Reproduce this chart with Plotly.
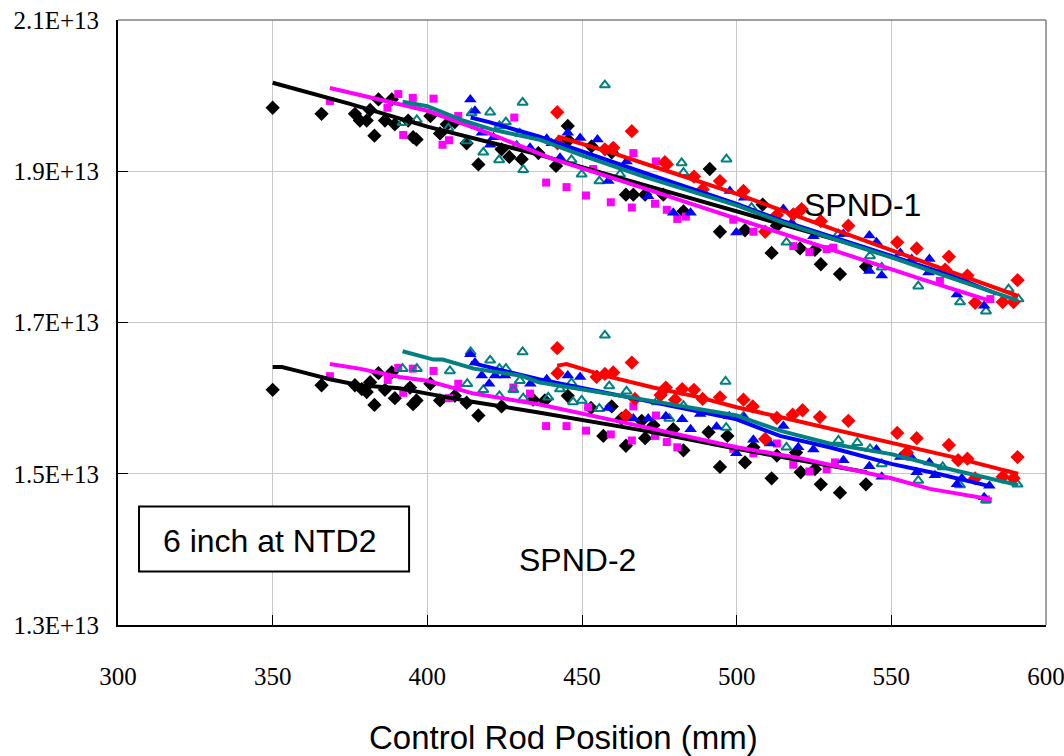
import plotly.graph_objects as go

E = 1e13

# ---------------- SPND-1 scatter data (y in units of 1E13) ----------------
s1_black_x = [350.0, 365.8, 376.6, 378.2, 380.4, 381.5, 384.2, 386.3, 382.9, 388.5, 389.5, 393.8, 395.4, 396.5,
              401.0, 404.1, 406.3, 408.9, 412.7, 416.5, 424.0, 426.5, 430.5, 435.9, 441.6, 445.4, 445.6, 453.1,
              459.6, 464.2, 466.6, 470.4, 476.3, 482.8, 491.3, 494.6, 502.7, 508.4, 511.3, 513.0, 520.5, 525.3,
              527.2, 533.4, 541.8]
s1_black_y = [1.984, 1.976, 1.976, 1.967, 1.967, 1.981, 1.995, 1.967, 1.947, 1.995, 1.962, 1.967, 1.945, 1.942,
              1.973, 1.950, 1.962, 1.965, 1.937, 1.909, 1.929, 1.919, 1.916, 1.924, 1.907, 1.960, 1.941, 1.933,
              1.925, 1.869, 1.869, 1.869, 1.869, 1.847, 1.903, 1.820, 1.822, 1.856, 1.792, 1.828, 1.798, 1.796,
              1.777, 1.764, 1.774]

s1_mag_x = [368.5, 390.6, 395.3, 402.0, 387.1, 392.2, 410.0, 407.0, 404.9, 428.1, 438.4, 445.0, 451.3, 459.3,
            466.6, 473.9, 466.1, 473.6, 477.4, 480.8, 483.6, 453.6, 498.9, 505.4, 518.3, 523.5, 529.1, 531.2,
            565.7, 582.0]
s1_mag_y = [1.993, 2.002, 1.997, 1.996, 1.984, 1.948, 1.973, 1.941, 1.935, 1.971, 1.885, 1.879, 1.868, 1.859,
            1.924, 1.913, 1.852, 1.857, 1.849, 1.837, 1.840, 1.903, 1.836, 1.820, 1.801, 1.793, 1.797, 1.799,
            1.755, 1.731]

s1_teal_x = [392.0, 396.6, 406.8, 412.7, 414.3, 418.1, 420.3, 423.2, 423.3, 425.4, 428.9, 430.8, 431.0, 429.9,
             446.6, 449.9, 455.6, 457.4, 462.3, 482.2, 482.8, 496.7, 504.8, 516.1, 532.9, 543.1, 546.9, 558.7,
             572.2, 580.6, 587.9, 591.1]
s1_teal_y = [1.964, 1.968, 1.957, 1.940, 1.977, 1.925, 1.978, 1.915, 1.960, 1.965, 1.934, 1.991, 1.902, 1.950,
             1.915, 1.896, 1.887, 2.014, 1.896, 1.911, 1.898, 1.916, 1.852, 1.806, 1.817, 1.788, 1.773, 1.748,
             1.727, 1.715, 1.744, 1.731]

s1_blue_x = [413.9, 415.4, 417.6, 420.3, 421.4, 433.2, 438.6, 440.2, 445.4, 449.4, 455.0, 442.9, 458.5, 464.4,
             471.4, 479.5, 485.1, 497.8, 499.9, 502.4, 507.5, 515.1, 517.8, 524.8, 534.5, 542.9, 545.2, 542.9,
             546.9, 552.9, 556.6, 562.3, 562.0, 571.2, 580.0]
s1_blue_y = [1.995, 1.980, 1.951, 1.935, 1.945, 1.931, 1.943, 1.937, 1.951, 1.944, 1.942, 1.918, 1.887, 1.913,
             1.867, 1.845, 1.845, 1.874, 1.819, 1.865, 1.841, 1.850, 1.832, 1.814, 1.817, 1.815, 1.806, 1.768,
             1.762, 1.792, 1.784, 1.784, 1.766, 1.737, 1.722]

s1_red_x = [442.0, 442.1, 466.1, 457.4, 460.1, 476.8, 477.4, 486.2, 494.6, 489.0, 502.2, 509.2, 513.0, 518.3,
            521.0, 527.2, 536.1, 551.9, 558.2, 568.6, 567.4, 574.6, 577.1, 586.0, 589.5, 590.8]
s1_red_y = [1.978, 1.937, 1.953, 1.929, 1.931, 1.912, 1.909, 1.893, 1.887, 1.876, 1.874, 1.820, 1.842, 1.843,
            1.850, 1.834, 1.828, 1.806, 1.798, 1.787, 1.770, 1.762, 1.726, 1.727, 1.727, 1.756]

# ---------------- SPND-1 trend lines ----------------
s1_black_lx = [350, 375, 400, 436, 470, 500, 520, 542]
s1_black_ly = [2.017, 1.989, 1.959, 1.922, 1.882, 1.847, 1.823, 1.798]
s1_mag_lx = [368.5, 380, 400, 420, 440, 460, 480, 500, 520, 540, 560, 582.5]
s1_mag_ly = [2.010, 1.999, 1.980, 1.950, 1.917, 1.891, 1.864, 1.838, 1.810, 1.784, 1.757, 1.728]
s1_teal_lx = [392, 400, 411, 421, 436, 450, 470, 500, 515, 550, 570, 591]
s1_teal_ly = [1.992, 1.986, 1.968, 1.955, 1.942, 1.921, 1.893, 1.855, 1.832, 1.786, 1.758, 1.729]
s1_blue_lx = [414, 420, 436, 450, 470, 500, 515, 550, 570, 584]
s1_blue_ly = [1.971, 1.965, 1.946, 1.926, 1.898, 1.857, 1.834, 1.788, 1.761, 1.738]
s1_red_lx = [442, 460, 480, 500, 520, 550, 570, 591]
s1_red_ly = [1.946, 1.924, 1.897, 1.870, 1.840, 1.795, 1.766, 1.735]

# ---------------- SPND-2 scatter data ----------------
s2_black_x = [350.0, 365.8, 376.6, 378.8, 380.4, 381.5, 384.2, 386.3, 382.9, 388.5, 389.5, 394.4, 395.4, 396.5,
              401.0, 404.1, 408.9, 412.7, 416.5, 424.0, 434.2, 438.0, 445.4, 452.9, 456.9, 459.6, 462.8, 464.2,
              469.3, 470.4, 473.1, 479.5, 482.8, 490.9, 494.6, 497.0, 502.7, 505.4, 511.3, 513.0, 519.2, 520.7,
              525.3, 527.2, 533.4, 541.8]
s2_black_y = [1.611, 1.617, 1.617, 1.612, 1.608, 1.621, 1.633, 1.611, 1.591, 1.634, 1.600, 1.614, 1.592, 1.597,
              1.619, 1.597, 1.603, 1.594, 1.577, 1.589, 1.598, 1.597, 1.603, 1.587, 1.550, 1.589, 1.573, 1.537,
              1.570, 1.547, 1.564, 1.559, 1.531, 1.555, 1.509, 1.550, 1.515, 1.535, 1.494, 1.524, 1.528, 1.502,
              1.506, 1.486, 1.475, 1.486]

s2_mag_x = [368.5, 390.6, 395.3, 402.0, 387.2, 392.2, 410.0, 407.0, 427.8, 433.2, 438.4, 445.0, 451.3, 459.3,
            466.6, 473.9, 466.1, 473.6, 477.4, 480.8, 452.0, 498.9, 505.4, 513.0, 518.3, 523.5, 529.1, 531.8,
            580.6]
s2_mag_y = [1.629, 1.640, 1.639, 1.636, 1.624, 1.607, 1.619, 1.600, 1.614, 1.606, 1.563, 1.563, 1.557, 1.552,
            1.589, 1.577, 1.544, 1.550, 1.542, 1.535, 1.588, 1.533, 1.527, 1.540, 1.512, 1.503, 1.506, 1.515,
            1.466]

s2_teal_x = [392.0, 396.6, 407.3, 412.9, 414.0, 420.3, 418.1, 423.3, 425.4, 423.3, 427.8, 429.9, 430.8, 431.0,
             439.1, 442.9, 446.6, 447.1, 449.9, 455.6, 457.4, 458.8, 464.4, 474.1, 478.2, 482.8, 496.4, 496.6,
             502.2, 516.1, 532.9, 539.0, 543.1, 546.9, 558.7, 566.6, 572.2, 580.6, 587.9, 590.8]
s2_teal_y = [1.639, 1.639, 1.636, 1.619, 1.661, 1.650, 1.611, 1.639, 1.639, 1.603, 1.611, 1.623, 1.661, 1.600,
             1.601, 1.612, 1.620, 1.595, 1.597, 1.586, 1.683, 1.616, 1.609, 1.595, 1.573, 1.590, 1.622, 1.561,
             1.576, 1.535, 1.544, 1.541, 1.533, 1.513, 1.491, 1.509, 1.485, 1.465, 1.498, 1.486]

s2_blue_x = [413.9, 415.4, 417.6, 420.0, 421.9, 425.1, 433.3, 438.6, 445.4, 449.4, 455.0, 458.5, 466.6, 471.4,
             477.1, 482.4, 485.1, 488.2, 493.5, 497.6, 499.9, 502.4, 505.4, 510.8, 515.1, 519.9, 524.8, 534.5,
             542.9, 545.2, 546.9, 552.9, 556.6, 558.2, 562.3, 564.1, 571.2, 572.8, 580.0, 581.7]
s2_blue_y = [1.658, 1.647, 1.630, 1.619, 1.630, 1.630, 1.619, 1.625, 1.630, 1.628, 1.630, 1.587, 1.573, 1.573,
             1.576, 1.572, 1.559, 1.579, 1.562, 1.576, 1.527, 1.574, 1.545, 1.540, 1.563, 1.535, 1.532, 1.518,
             1.510, 1.532, 1.496, 1.522, 1.521, 1.502, 1.515, 1.498, 1.486, 1.494, 1.469, 1.484]

s2_red_x = [442.0, 442.1, 454.7, 457.4, 460.1, 466.1, 464.2, 467.1, 477.1, 475.4, 480.1, 482.4, 486.2, 489.0,
            494.6, 502.2, 505.2, 509.2, 513.0, 518.1, 521.3, 526.9, 536.1, 551.9, 555.0, 558.2, 568.6, 571.6,
            574.6, 577.1, 586.0, 589.5, 590.8]
s2_red_y = [1.666, 1.633, 1.628, 1.632, 1.634, 1.647, 1.577, 1.599, 1.614, 1.604, 1.598, 1.612, 1.611, 1.599,
            1.601, 1.598, 1.589, 1.546, 1.574, 1.578, 1.584, 1.575, 1.570, 1.554, 1.528, 1.547, 1.538, 1.518,
            1.520, 1.494, 1.496, 1.494, 1.522]

# ---------------- SPND-2 trend lines ----------------
s2_black_lx = [350, 353, 358, 368.5, 378, 391, 400, 415, 436, 470, 500, 520, 542]
s2_black_ly = [1.641, 1.641, 1.636, 1.625, 1.617, 1.613, 1.606, 1.595, 1.581, 1.557, 1.533, 1.518, 1.502]
s2_mag_lx = [368.5, 378, 391, 400, 415, 436, 470, 500, 520, 550, 562.5, 582.5]
s2_mag_ly = [1.645, 1.639, 1.628, 1.623, 1.606, 1.592, 1.562, 1.535, 1.521, 1.494, 1.480, 1.466]
s2_teal_lx = [392, 402, 405, 415, 430, 436, 470, 500, 514, 530, 550, 570, 591]
s2_teal_ly = [1.662, 1.651, 1.651, 1.639, 1.630, 1.621, 1.598, 1.577, 1.557, 1.540, 1.526, 1.505, 1.485]
s2_blue_lx = [414, 430, 436, 470, 500, 514, 530, 550, 565, 581.4]
s2_blue_ly = [1.647, 1.631, 1.625, 1.597, 1.572, 1.550, 1.535, 1.513, 1.500, 1.484]
s2_red_lx = [442, 445, 457, 473, 487, 500, 514, 530, 550, 570, 591]
s2_red_ly = [1.643, 1.645, 1.630, 1.614, 1.602, 1.588, 1.575, 1.560, 1.542, 1.522, 1.500]

# ---------------- axis ticks ----------------
x_ticks = [300, 350, 400, 450, 500, 550, 600]
y_ticks = [1.3, 1.5, 1.7, 1.9, 2.1]
y_tick_text = ["1.3E+13", "1.5E+13", "1.7E+13", "1.9E+13", "2.1E+13"]

BLACK = "#000000"
MAG = "#FF00FF"
TEAL = "#008080"
BLUE = "#0000FF"
RED = "#FF0000"

fig = go.Figure()

def sc(x, y, color, symbol, size, open_=False):
    marker = dict(color=color, symbol=symbol, size=size)
    if open_:
        marker["line"] = dict(color=color, width=2)
    else:
        marker["line"] = dict(width=0)
    fig.add_trace(go.Scatter(x=x, y=[v * E for v in y], mode="markers", marker=marker,
                             showlegend=False, hoverinfo="x+y"))

def ln(x, y, color):
    fig.add_trace(go.Scatter(x=x, y=[v * E for v in y], mode="lines",
                             line=dict(color=color, width=4), showlegend=False))

for (bx, by), (mx, my), (tx, ty), (ux, uy), (rx, ry) in [
    ((s1_black_x, s1_black_y), (s1_mag_x, s1_mag_y), (s1_teal_x, s1_teal_y), (s1_blue_x, s1_blue_y), (s1_red_x, s1_red_y)),
    ((s2_black_x, s2_black_y), (s2_mag_x, s2_mag_y), (s2_teal_x, s2_teal_y), (s2_blue_x, s2_blue_y), (s2_red_x, s2_red_y)),
]:
    sc(bx, by, BLACK, "diamond", 11)
    sc(mx, my, MAG, "square", 8)
    sc(tx, ty, TEAL, "triangle-up-open", 9, open_=True)
    sc(ux, uy, BLUE, "triangle-up", 11)
    sc(rx, ry, RED, "diamond", 11)

ln(s1_black_lx, s1_black_ly, BLACK)
ln(s1_mag_lx, s1_mag_ly, MAG)
ln(s1_blue_lx, s1_blue_ly, BLUE)
ln(s1_teal_lx, s1_teal_ly, TEAL)
ln(s1_red_lx, s1_red_ly, RED)
ln(s2_black_lx, s2_black_ly, BLACK)
ln(s2_mag_lx, s2_mag_ly, MAG)
ln(s2_blue_lx, s2_blue_ly, BLUE)
ln(s2_teal_lx, s2_teal_ly, TEAL)
ln(s2_red_lx, s2_red_ly, RED)

SANS = "Liberation Sans, Arial, sans-serif"
SERIF = "Liberation Serif, Times New Roman, serif"

fig.update_layout(
    width=1064, height=756,
    margin=dict(l=118, r=18, t=20, b=131, autoexpand=False),
    paper_bgcolor="white", plot_bgcolor="white",
    xaxis=dict(range=[300, 600], tickvals=x_ticks, ticktext=[str(v) for v in x_ticks],
               automargin=False, ticklabeloverflow="allow",
               showgrid=True, gridcolor="#c8c8c8", gridwidth=1,
               showline=True, linecolor="black", linewidth=2,
               ticks="inside", ticklen=10, tickcolor="black", tickwidth=1,
               tickfont=dict(family=SERIF, size=25, color="black"),
               ticklabelstandoff=28, zeroline=False),
    yaxis=dict(range=[1.3 * E, 2.1 * E], tickvals=[v * E for v in y_ticks], ticktext=y_tick_text,
               automargin=False, ticklabeloverflow="allow",
               showgrid=True, gridcolor="#c8c8c8", gridwidth=1,
               showline=True, linecolor="black", linewidth=2,
               ticks="inside", ticklen=10, tickcolor="black", tickwidth=1,
               tickfont=dict(family=SERIF, size=25, color="black"),
               ticklabelstandoff=12, zeroline=False),
    shapes=[
        dict(type="line", xref="paper", yref="paper", x0=0, x1=1, y0=1, y1=1,
             line=dict(color="#808080", width=1.5)),
        dict(type="line", xref="paper", yref="paper", x0=1, x1=1, y0=0, y1=1,
             line=dict(color="#808080", width=1.5)),
        dict(type="rect", xref="x", yref="y", x0=306.8, x1=394.1, y0=1.3709 * E, y1=1.4566 * E,
             line=dict(color="black", width=2), fillcolor="white", layer="above"),
    ],
    annotations=[
        dict(text="SPND-1", x=521, y=1.855 * E, xref="x", yref="y", showarrow=False,
             font=dict(family=SANS, size=32, color="black"), xanchor="left", yanchor="middle"),
        dict(text="SPND-2", x=429, y=1.386 * E, xref="x", yref="y", showarrow=False,
             font=dict(family=SANS, size=32, color="black"), xanchor="left", yanchor="middle"),
        dict(text="6 inch at NTD2", x=313.9, y=1.4105 * E, xref="x", yref="y", showarrow=False,
             font=dict(family=SANS, size=32, color="black"), xanchor="left", yanchor="middle"),
        dict(text="Control Rod Position (mm)", x=0.4806, y=-0.186, xref="paper", yref="paper",
             showarrow=False, xanchor="center", yanchor="middle",
             font=dict(family=SANS, size=33, color="black")),
    ],
)

fig.write_html("out.html")
